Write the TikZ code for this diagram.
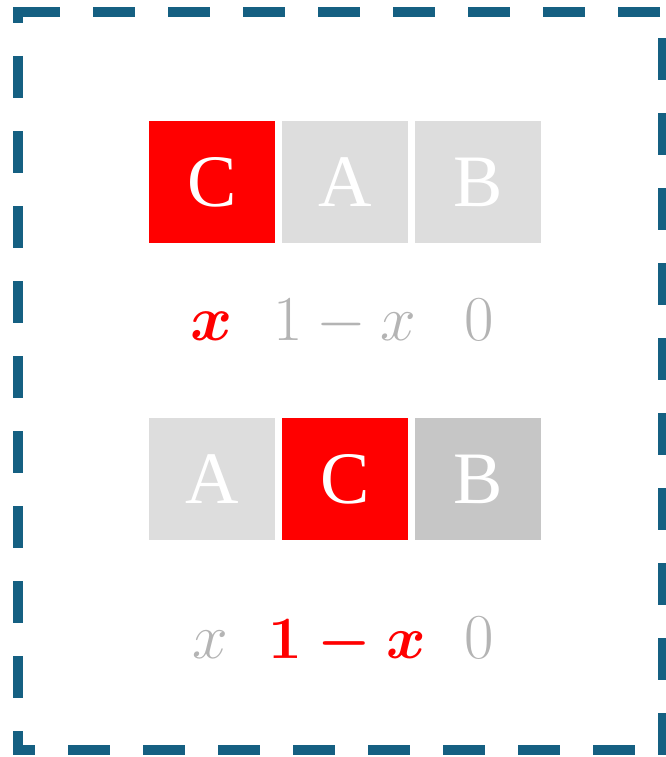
\RequirePackage{fix-cm}
\documentclass[tikz,border=0pt]{standalone}
\usepackage{amsmath}
\usepackage{fontspec}
\newfontfamily\boxfont{Liberation Serif}
\definecolor{frameblue}{RGB}{21,96,130}
\definecolor{lightbox}{RGB}{221,221,221}
\definecolor{midbox}{RGB}{198,198,198}
\definecolor{graytxt}{RGB}{180,180,180}
\definecolor{hotred}{RGB}{255,0,0}
\tikzset{
  cell/.style={minimum width=126pt, minimum height=122pt, inner sep=0pt, text=white,
    font=\boxfont\fontsize{74}{80}\selectfont},
  redcell/.style={cell, fill=hotred},
  graycell/.style={cell, fill=lightbox},
  darkcell/.style={cell, fill=midbox},
  val/.style={anchor=base, inner sep=0pt, font=\fontsize{64}{70}\selectfont},
  frame/.style={draw=frameblue, line width=10pt, line cap=butt}
}
\begin{document}
\begin{tikzpicture}[x=1pt, y=-1pt]
\useasboundingbox (0,0) rectangle (666,757);
% dashed frame, one side at a time so the dash phases match
\coordinate (tl) at (18,12.5);
\coordinate (tr) at (668,12.5);
\coordinate (lt) at (18,7.5);
\coordinate (lb) at (18,755);
\coordinate (bl) at (13,750);
\coordinate (br) at (668,750);
\coordinate (rt) at (663,7.5);
\coordinate (rb) at (663,755);
\draw[frame, dash pattern=on 42pt off 33pt, dash phase=0pt]    (tl) -- (tr);
\draw[frame, dash pattern=on 42pt off 33pt, dash phase=26.5pt] (lt) -- (lb);
\draw[frame, dash pattern=on 42pt off 33pt, dash phase=20pt]   (bl) -- (br);
\draw[frame, dash pattern=on 42pt off 33pt, dash phase=44.5pt] (rt) -- (rb);
% row 1
\node[redcell]  (r1c) at (212,182) {C};
\node[graycell] (r1a) at (345,182) {A};
\node[graycell] (r1b) at (478,182) {B};
\node[val, text=hotred]  (v1c) at (212,340) {$\boldsymbol{x}$};
\node[val, text=graytxt] (v1a) at (345,340) {$1-x$};
\node[val, text=graytxt] (v1b) at (479,340) {$0$};
% row 2
\node[graycell] (r2a) at (212,479) {A};
\node[redcell]  (r2c) at (345,479) {C};
\node[darkcell] (r2b) at (478,479) {B};
\node[val, text=graytxt] (v2a) at (210,658) {$x$};
\node[val, text=hotred, font=\fontsize{60}{66}\selectfont]  (v2c) at (347,658) {$\boldsymbol{1-x}$};
\node[val, text=graytxt] (v2b) at (479,658) {$0$};
\end{tikzpicture}
\end{document}
